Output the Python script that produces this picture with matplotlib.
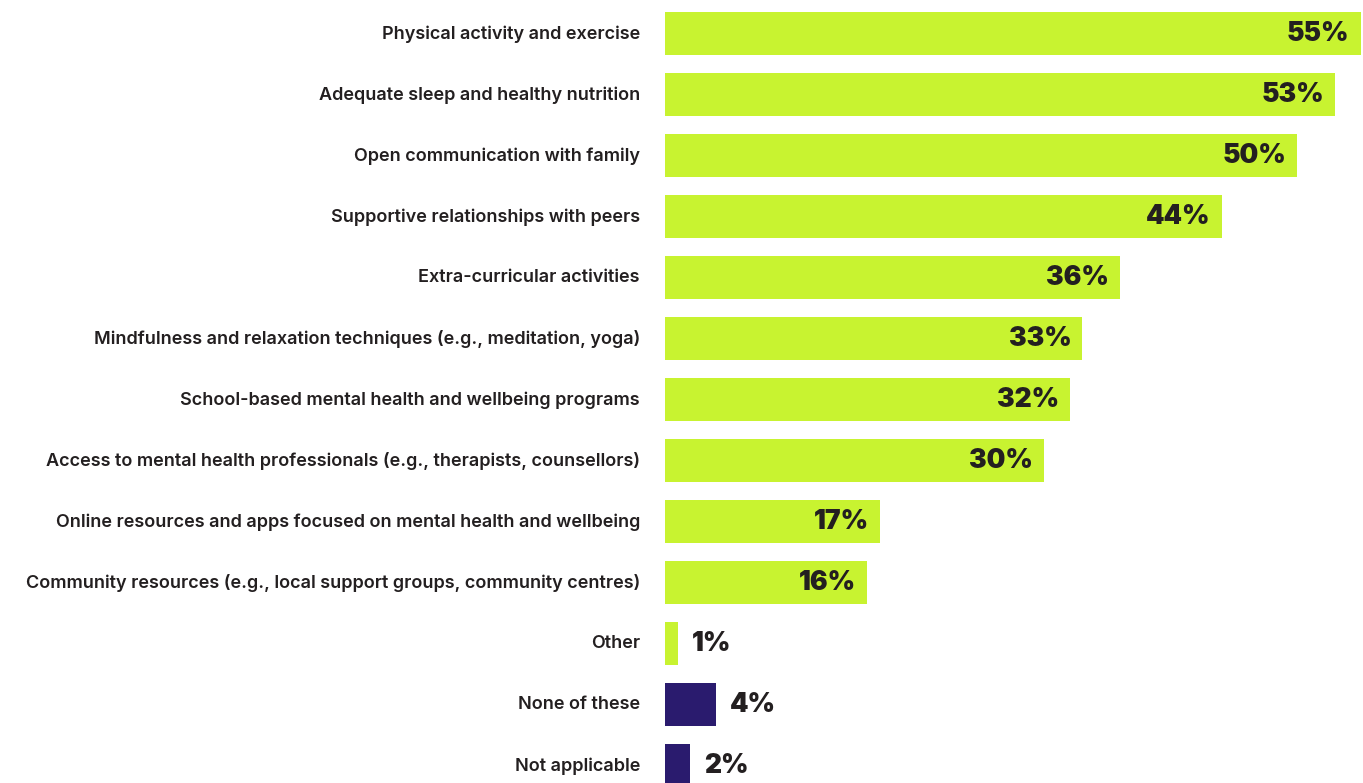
import matplotlib.pyplot as plt

categories = [
    "Physical activity and exercise",
    "Adequate sleep and healthy nutrition",
    "Open communication with family",
    "Supportive relationships with peers",
    "Extra-curricular activities",
    "Mindfulness and relaxation techniques (e.g., meditation, yoga)",
    "School-based mental health and wellbeing programs",
    "Access to mental health professionals (e.g., therapists, counsellors)",
    "Online resources and apps focused on mental health and wellbeing",
    "Community resources (e.g., local support groups, community centres)",
    "Other",
    "None of these",
    "Not applicable",
]
values = [55, 53, 50, 44, 36, 33, 32, 30, 17, 16, 1, 4, 2]
# last two rows are the "no answer" style responses
highlight = [False] * 11 + [True, True]

lime = "#C8F330"
navy = "#2A1B6E"
ink = "#231F20"

fig = plt.figure(figsize=(13.63, 7.83), dpi=100)
ax = fig.add_axes([665 / 1363, 0, 698 / 1363, 1])

ypos = list(range(len(categories)))
colors = [navy if h else lime for h in highlight]
ax.barh(ypos, values, height=0.705, color=colors)

ax.set_xlim(0, 55.18)
ax.set_ylim(12.28, -0.555)

ax.set_yticks(ypos)
ax.set_yticklabels(categories, fontsize=13, fontweight="semibold",
                   family="Inter", color=ink, va="center")
ax.tick_params(axis="y", length=0, pad=18)
ax.set_xticks([])
for s in ax.spines.values():
    s.set_visible(False)

for y, v in zip(ypos, values):
    label = "%d%%" % v
    if v >= 10:
        ax.annotate(label, (v, y), xytext=(-8, 0), textcoords="offset points",
                    ha="right", va="center", fontsize=19, fontweight="black",
                    family="Inter", color=ink)
    else:
        ax.annotate(label, (v, y), xytext=(10, 0), textcoords="offset points",
                    ha="left", va="center", fontsize=19, fontweight="black",
                    family="Inter", color=ink)

fig.savefig("out.png", dpi=100)
